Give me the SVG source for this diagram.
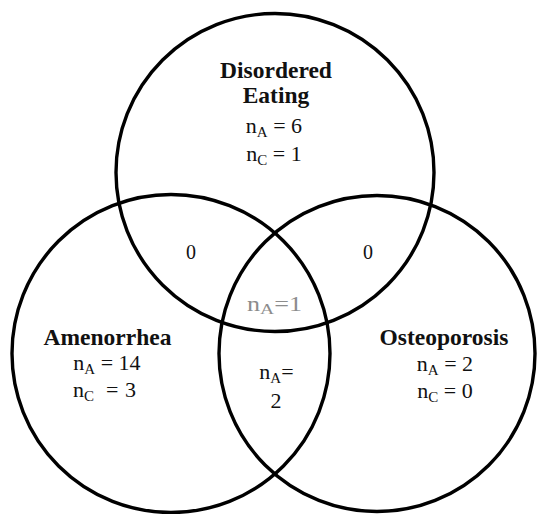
<svg xmlns="http://www.w3.org/2000/svg" width="538" height="514" viewBox="0 0 538 514">
<style>
.c{fill:none;stroke:#000;stroke-width:3.4}
text{font-family:"Liberation Serif","Times New Roman",serif;fill:#111;text-anchor:middle}
.t{font-weight:bold;font-size:23.5px}
.n{font-size:22px}
.s{font-size:15px}
.g{fill:#8c8c8c}
.l{text-anchor:start}
</style>
<rect width="538" height="514" fill="#fff"/>
<g id="connectors"></g>
<g id="disordered-eating">
<circle class="c" cx="275" cy="172.5" r="159"/>
<text class="t" x="276" y="78">Disordered</text>
<text class="t" x="276" y="103">Eating</text>
<text class="n" x="274" y="133">n<tspan class="s" dy="4">A</tspan><tspan dy="-4"> = 6</tspan></text>
<text class="n" x="274" y="160.5">n<tspan class="s" dy="4">C</tspan><tspan dy="-4"> = 1</tspan></text>
</g>
<g id="amenorrhea">
<circle class="c" cx="171" cy="353.5" r="159"/>
<text class="t" x="107.5" y="345">Amenorrhea</text>
<text class="n" x="107" y="369.5">n<tspan class="s" dy="4">A</tspan><tspan dy="-4"> = 14</tspan></text>
<text class="n l" x="73" y="397">n<tspan class="s" dy="4">C</tspan><tspan dy="-4" x="106">=</tspan><tspan x="125">3</tspan></text>
</g>
<g id="osteoporosis">
<circle class="c" cx="377" cy="353.5" r="158"/>
<text class="t" x="444" y="345">Osteoporosis</text>
<text class="n" x="445" y="371">n<tspan class="s" dy="4">A</tspan><tspan dy="-4"> = 2</tspan></text>
<text class="n" x="445" y="397.5">n<tspan class="s" dy="4">C</tspan><tspan dy="-4"> = 0</tspan></text>
</g>
<g id="overlap-de-am"><text class="n" x="191" y="259" style="font-size:20px">0</text></g>
<g id="overlap-de-os"><text class="n" x="368" y="259" style="font-size:20px">0</text></g>
<g id="overlap-all"><text class="n g" x="274.5" y="311" textLength="55" lengthAdjust="spacingAndGlyphs" style="font-size:20px">n<tspan class="s g" dy="3">A</tspan><tspan dy="-3">=1</tspan></text></g>
<g id="overlap-am-os">
<text class="n" x="276.5" y="379">n<tspan class="s" dy="4">A</tspan><tspan dy="-4">=</tspan></text>
<text class="n" x="276" y="408">2</text>
</g>
</svg>
